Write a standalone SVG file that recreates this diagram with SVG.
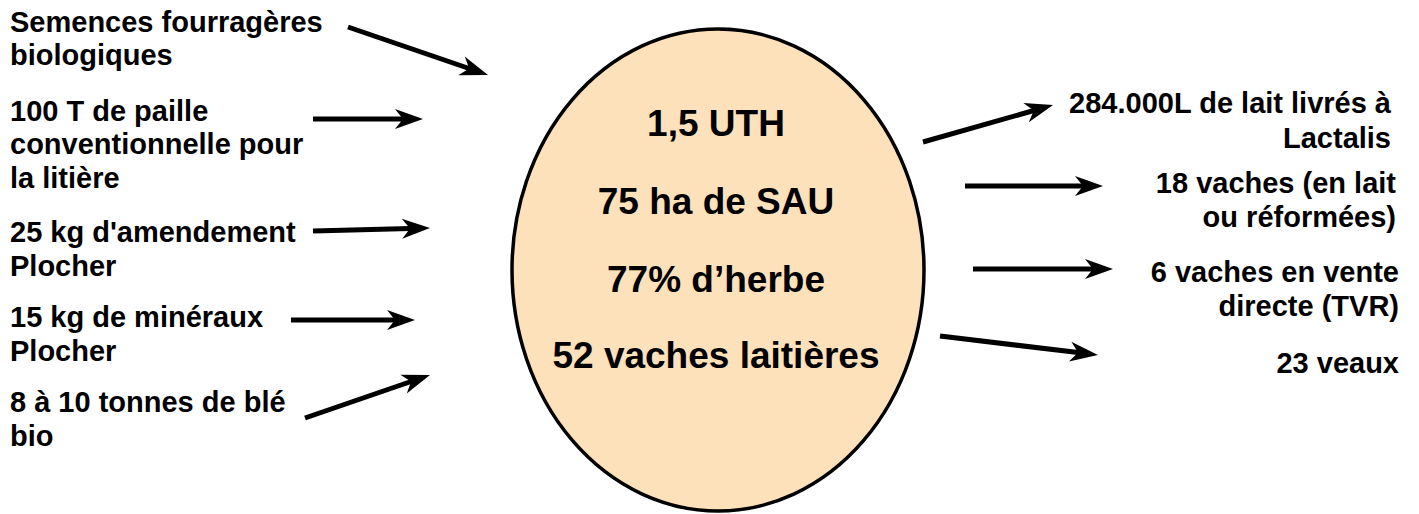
<svg xmlns="http://www.w3.org/2000/svg" width="1419" height="514" viewBox="0 0 1419 514">
  <style>
    .t { font-family: "Liberation Sans", Arial, sans-serif; font-weight: bold; font-size: 29px; fill: #000; }
    .r { text-anchor: end; }
    .c { font-family: "Liberation Sans", Arial, sans-serif; font-weight: bold; font-size: 37px; fill: #000; text-anchor: middle; }
    .a { fill: none; stroke: #000; stroke-width: 5; marker-end: url(#ah); }
  </style>
  <defs>
    <marker id="ah" markerUnits="userSpaceOnUse" markerWidth="30" markerHeight="22" refX="8" refY="11" orient="auto" overflow="visible">
      <path d="M0,1 L28,11 L0,21 L8,11 Z" fill="#000"/>
    </marker>
  </defs>
  <rect width="1419" height="514" fill="#fff"/>

  <g id="farm">
    <ellipse cx="718" cy="270" rx="206" ry="241" fill="#FDE1BA" stroke="#000" stroke-width="3.5"/>
    <text class="c" x="716" y="136">1,5 UTH</text>
    <text class="c" x="716" y="214">75 ha de SAU</text>
    <text class="c" x="716" y="292">77% d’herbe</text>
    <text class="c" x="716" y="368">52 vaches laitières</text>
  </g>

  <g id="in-semences">
    <text class="t" x="10" y="32">Semences fourragères</text>
    <text class="t" x="10" y="65">biologiques</text>
  </g>
  <g id="in-paille">
    <text class="t" x="10" y="121">100 T de paille</text>
    <text class="t" x="10" y="154">conventionnelle pour</text>
    <text class="t" x="10" y="188">la litière</text>
  </g>
  <g id="in-amendement">
    <text class="t" x="10" y="242">25 kg d'amendement</text>
    <text class="t" x="10" y="276">Plocher</text>
  </g>
  <g id="in-mineraux">
    <text class="t" x="10" y="327">15 kg de minéraux</text>
    <text class="t" x="10" y="361">Plocher</text>
  </g>
  <g id="in-ble">
    <text class="t" x="10" y="412">8 à 10 tonnes de blé</text>
    <text class="t" x="10" y="446">bio</text>
  </g>

  <g id="out-lait">
    <text class="t r" x="1391" y="113">284.000L de lait livrés à</text>
    <text class="t r" x="1391" y="148">Lactalis</text>
  </g>
  <g id="out-vaches">
    <text class="t r" x="1396" y="193">18 vaches (en lait</text>
    <text class="t r" x="1396" y="227">ou réformées)</text>
  </g>
  <g id="out-vente">
    <text class="t r" x="1399" y="282">6 vaches en vente</text>
    <text class="t r" x="1399" y="316">directe (TVR)</text>
  </g>
  <g id="out-veaux">
    <text class="t r" x="1399" y="373">23 veaux</text>
  </g>

  <g id="connectors">
    <path class="a" d="M348,27 L469.1,68.5"/>
    <path class="a" d="M313,119 L403,119"/>
    <path class="a" d="M313,231 L410,228.5"/>
    <path class="a" d="M291,320 L395,320"/>
    <path class="a" d="M305,418 L411.1,381.5"/>
    <path class="a" d="M923,142 L1033.8,110.5"/>
    <path class="a" d="M965,186 L1083,186"/>
    <path class="a" d="M973,269 L1093,269"/>
    <path class="a" d="M940,336 L1078.1,352.6"/>
  </g>
</svg>
